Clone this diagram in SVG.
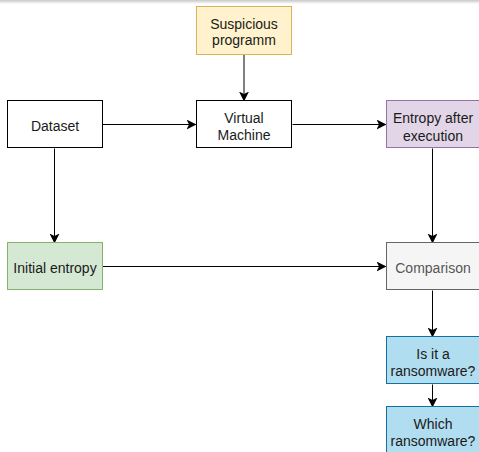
<svg xmlns="http://www.w3.org/2000/svg" width="479" height="452" viewBox="0 0 479 452">
<defs>
<linearGradient id="topShade" x1="0" y1="0" x2="0" y2="1">
<stop offset="0" stop-color="#c8c8c8"/>
<stop offset="1" stop-color="#ffffff"/>
</linearGradient>
<marker id="arr" viewBox="0 0 10 10" refX="9" refY="5" markerWidth="10" markerHeight="10" markerUnits="userSpaceOnUse" orient="auto">
<path d="M0,0 L10,5 L0,10 L2.5,5 Z" fill="#000"/>
</marker>
<style>
.n rect{stroke-width:1}
.t{font-family:"Liberation Sans",Arial,Helvetica,sans-serif;font-size:14px;fill:#1a1a1a;text-anchor:middle}
.c path{fill:none;stroke:#000;stroke-width:1;marker-end:url(#arr)}
</style>
</defs>
<rect width="479" height="452" fill="#fff"/>
<rect width="479" height="4" fill="url(#topShade)"/>
<g class="c" id="connectors">
<path d="M244,54.5 V100.5"/>
<path d="M102.5,124.5 H195.5"/>
<path d="M292.5,124.5 H385.5"/>
<path d="M54.5,148.5 V242.5"/>
<path d="M432.5,148.5 V242.5"/>
<path d="M102.5,266.5 H385.5"/>
<path d="M432.5,290.5 V336.5"/>
<path d="M432.5,384.5 V406.5"/>
</g>
<g class="n" id="suspicious">
<rect x="196.5" y="6.5" width="95" height="48" fill="#fff2cc" stroke="#d6b656"/>
<text class="t" x="244" y="28.5">Suspicious</text>
<text class="t" x="244" y="45">programm</text>
</g>
<g class="n" id="vm">
<rect x="196.5" y="100.5" width="95" height="47" fill="#fff" stroke="#000"/>
<text class="t" x="244" y="123">Virtual</text>
<text class="t" x="244" y="140">Machine</text>
</g>
<g class="n" id="dataset">
<rect x="7.5" y="100.5" width="95" height="47" fill="#fff" stroke="#000"/>
<text class="t" x="55" y="131">Dataset</text>
</g>
<g class="n" id="initial">
<rect x="7.5" y="242.5" width="95" height="47" fill="#d5e8d4" stroke="#82b366"/>
<text class="t" x="55" y="273">Initial entropy</text>
</g>
<g class="n" id="after">
<rect x="386.5" y="100.5" width="95" height="47" fill="#e1d5e7" stroke="#9673a6"/>
<text class="t" x="433" y="123">Entropy after</text>
<text class="t" x="433" y="140.5">execution</text>
</g>
<g class="n" id="comparison">
<rect x="386.5" y="242.5" width="95" height="47" fill="#f5f5f5" stroke="#666666"/>
<text class="t" x="433" y="273" style="fill:#555555">Comparison</text>
</g>
<g class="n" id="isit">
<rect x="386.5" y="336.5" width="95" height="47" fill="#b1ddf0" stroke="#10739e"/>
<text class="t" x="433" y="359">Is it a</text>
<text class="t" x="433" y="376">ransomware?</text>
</g>
<g class="n" id="which">
<rect x="386.5" y="406.5" width="95" height="47" fill="#b1ddf0" stroke="#10739e"/>
<text class="t" x="433" y="429">Which</text>
<text class="t" x="433" y="446">ransomware?</text>
</g>
</svg>
